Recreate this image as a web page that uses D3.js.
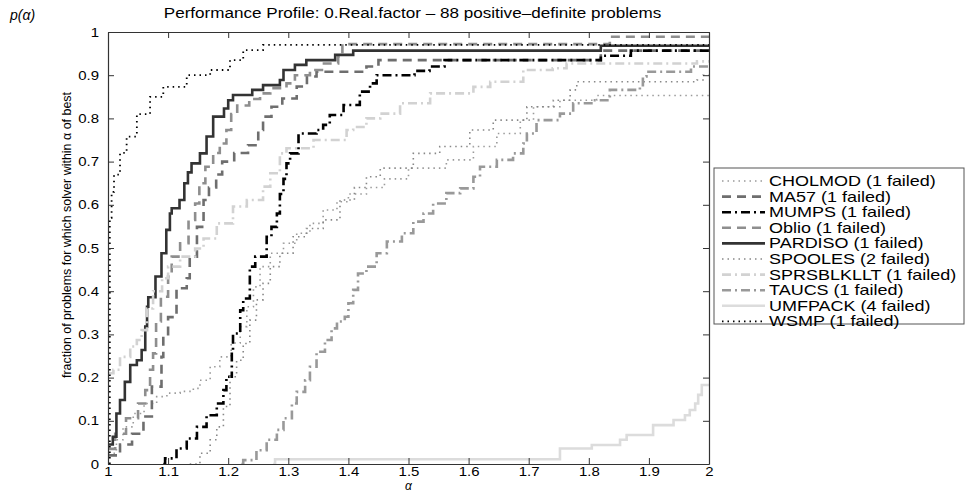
<!DOCTYPE html>
<html>
<head>
<meta charset="utf-8">
<script src="https://cdn.jsdelivr.net/npm/d3@7"></script>
<style>
  body { margin: 0; background: #fff; }
  svg { display: block; }
  text { font-family: "Liberation Sans", Arial, Helvetica, sans-serif; fill: #000; }
</style>
</head>
<body>
<svg id="chart" width="967" height="493"></svg>
<script>
// performance profile data: [alpha, fraction]
var cholmod = [[1,0.025],[1.014,0.056],[1.025,0.086],[1.042,0.117],[1.06,0.14],[1.081,0.156],[1.098,0.164],[1.12,0.168],[1.142,0.175],[1.153,0.194],[1.17,0.225],[1.186,0.248],[1.205,0.28],[1.22,0.318],[1.231,0.364],[1.242,0.41],[1.253,0.457],[1.27,0.488],[1.292,0.511],[1.314,0.534],[1.336,0.557],[1.358,0.588],[1.381,0.607],[1.4,0.625],[1.43,0.64],[1.46,0.66],[1.5,0.685],[1.563,0.704],[1.608,0.735],[1.647,0.765],[1.686,0.796],[1.708,0.827],[1.752,0.842],[1.813,0.853],[2,0.853]];
var ma57 = [[1,0.02],[1.02,0.045],[1.04,0.07],[1.059,0.11],[1.073,0.179],[1.089,0.248],[1.092,0.295],[1.1,0.34],[1.114,0.407],[1.131,0.43],[1.136,0.48],[1.148,0.549],[1.159,0.611],[1.168,0.64],[1.18,0.67],[1.19,0.7],[1.21,0.72],[1.233,0.738],[1.25,0.773],[1.258,0.804],[1.272,0.827],[1.29,0.846],[1.314,0.874],[1.331,0.897],[1.347,0.908],[1.43,0.92],[1.45,0.935],[1.82,0.957],[2,0.957]];
var mumps = [[1.092,0],[1.095,0.013],[1.114,0.036],[1.131,0.059],[1.148,0.086],[1.164,0.113],[1.181,0.14],[1.192,0.171],[1.197,0.202],[1.206,0.264],[1.208,0.302],[1.22,0.356],[1.225,0.383],[1.236,0.457],[1.245,0.48],[1.264,0.526],[1.272,0.549],[1.281,0.58],[1.286,0.625],[1.292,0.66],[1.297,0.696],[1.303,0.719],[1.317,0.765],[1.347,0.773],[1.358,0.785],[1.369,0.808],[1.392,0.831],[1.419,0.862],[1.436,0.881],[1.447,0.9],[1.51,0.91],[1.535,0.92],[1.56,0.935],[1.82,0.945],[1.87,0.957],[2,0.957]];
var oblio = [[1,0.035],[1.012,0.07],[1.03,0.106],[1.05,0.14],[1.062,0.171],[1.07,0.218],[1.075,0.256],[1.08,0.33],[1.088,0.387],[1.1,0.434],[1.106,0.48],[1.12,0.511],[1.134,0.565],[1.145,0.603],[1.152,0.65],[1.162,0.688],[1.175,0.72],[1.186,0.742],[1.197,0.773],[1.205,0.81],[1.215,0.83],[1.235,0.845],[1.253,0.858],[1.27,0.87],[1.297,0.881],[1.311,0.9],[1.336,0.912],[1.356,0.927],[1.383,0.943],[1.39,0.972],[1.835,0.989],[2,0.989]];
var pardiso = [[1,0.045],[1.008,0.063],[1.014,0.117],[1.02,0.148],[1.028,0.19],[1.037,0.229],[1.048,0.24],[1.056,0.264],[1.062,0.318],[1.065,0.364],[1.067,0.386],[1.079,0.434],[1.089,0.488],[1.097,0.542],[1.103,0.58],[1.106,0.592],[1.119,0.611],[1.127,0.65],[1.133,0.675],[1.139,0.696],[1.153,0.719],[1.164,0.758],[1.175,0.804],[1.193,0.823],[1.2,0.842],[1.208,0.854],[1.24,0.866],[1.258,0.877],[1.286,0.889],[1.292,0.912],[1.311,0.924],[1.33,0.935],[1.378,0.947],[1.408,0.957],[1.82,0.968],[2,0.968]];
var spooles = [[1.136,0],[1.153,0.025],[1.17,0.056],[1.181,0.086],[1.192,0.133],[1.203,0.202],[1.214,0.24],[1.225,0.279],[1.236,0.333],[1.247,0.38],[1.258,0.418],[1.27,0.457],[1.286,0.488],[1.308,0.526],[1.33,0.545],[1.358,0.565],[1.386,0.611],[1.41,0.64],[1.43,0.665],[1.453,0.685],[1.508,0.719],[1.552,0.735],[1.602,0.773],[1.641,0.796],[1.697,0.827],[1.741,0.842],[1.769,0.866],[1.78,0.885],[1.98,0.889],[1.99,0.9],[2,0.9]];
var sprsblkllt = [[1,0.21],[1.009,0.218],[1.02,0.248],[1.037,0.272],[1.048,0.287],[1.056,0.31],[1.065,0.36],[1.075,0.4],[1.09,0.43],[1.1,0.457],[1.12,0.48],[1.145,0.499],[1.159,0.522],[1.181,0.557],[1.208,0.596],[1.231,0.611],[1.258,0.642],[1.27,0.673],[1.286,0.719],[1.297,0.731],[1.342,0.75],[1.397,0.773],[1.408,0.78],[1.43,0.8],[1.453,0.811],[1.486,0.835],[1.536,0.858],[1.608,0.873],[1.636,0.885],[1.691,0.912],[1.74,0.916],[1.763,0.927],[1.98,0.932],[2,0.932]];
var taucs = [[1.222,0],[1.225,0.009],[1.247,0.032],[1.264,0.056],[1.281,0.079],[1.292,0.106],[1.306,0.14],[1.314,0.167],[1.328,0.194],[1.336,0.225],[1.347,0.26],[1.361,0.287],[1.372,0.314],[1.381,0.33],[1.394,0.341],[1.4,0.372],[1.408,0.403],[1.416,0.441],[1.43,0.457],[1.447,0.488],[1.464,0.515],[1.489,0.534],[1.508,0.561],[1.525,0.58],[1.541,0.603],[1.563,0.627],[1.586,0.638],[1.608,0.665],[1.619,0.688],[1.647,0.704],[1.674,0.719],[1.691,0.742],[1.697,0.765],[1.713,0.796],[1.752,0.811],[1.774,0.835],[1.807,0.842],[1.835,0.866],[1.885,0.877],[1.89,0.897],[1.896,0.908],[1.97,0.92],[2,0.92]];
var umfpack = [[1.275,0],[1.278,0.011],[1.752,0.036],[1.805,0.044],[1.852,0.056],[1.863,0.067],[1.907,0.09],[1.941,0.102],[1.96,0.113],[1.968,0.125],[1.977,0.14],[1.982,0.16],[1.988,0.183],[2,0.183]];
var wsmp = [[1.003,0],[1.003,0.57],[1.006,0.63],[1.01,0.67],[1.02,0.72],[1.031,0.758],[1.048,0.81],[1.07,0.85],[1.092,0.873],[1.131,0.9],[1.17,0.912],[1.203,0.935],[1.225,0.958],[1.258,0.97],[2,0.97]];

var solverNames = ["CHOLMOD","MA57","MUMPS","Oblio","PARDISO","SPOOLES","SPRSBLKLLT","TAUCS","UMFPACK","WSMP"];
var failedCounts = [1,1,1,1,1,2,1,1,4,1];
var xTicks = [1,1.1,1.2,1.3,1.4,1.5,1.6,1.7,1.8,1.9,2];
var yTicks = [0,0.1,0.2,0.3,0.4,0.5,0.6,0.7,0.8,0.9,1];
var titleText = "Performance Profile: 0.Real.factor \u2013 88 positive\u2013definite problems";
var yLabelText = "fraction of problems for which solver within \u03b1 of best";

var allData = [cholmod, ma57, mumps, oblio, pardiso, spooles, sprsblkllt, taucs, umfpack, wsmp];

// line styles, matlab look
var styles = [
  {color:"#9a9a9a", width:1.6, dash:"1.5,4"},
  {color:"#6e6e6e", width:2.6, dash:"9,6"},
  {color:"#000000", width:2.6, dash:"9,4,2,4"},
  {color:"#8e8e8e", width:2.6, dash:"9,6"},
  {color:"#333333", width:2.6, dash:null},
  {color:"#888888", width:1.6, dash:"1.5,4"},
  {color:"#d2d2d2", width:2.6, dash:"9,4,2,4"},
  {color:"#999999", width:2.6, dash:"9,4,2,4"},
  {color:"#dcdcdc", width:2.6, dash:null},
  {color:"#000000", width:1.8, dash:"1.5,4"}
];

var margin = {left:108, top:32, right:258, bottom:29};
var W = 967, H = 493;
var svg = d3.select("#chart");

// the original fonts are wider than Liberation Sans, stretch a bit
function widen(sel, k) {
  sel.each(function(){
    var w = this.getComputedTextLength();
    d3.select(this).attr("textLength", w * k).attr("lengthAdjust","spacingAndGlyphs");
  });
}

var x = d3.scaleLinear().domain([1,2]).range([margin.left, W - margin.right]);
var y = d3.scaleLinear().domain([0,1]).range([H - margin.bottom, margin.top]);

svg.append("defs").append("clipPath").attr("id","plotclip")
  .append("rect")
  .attr("x", x(1)).attr("y", y(1) - 1)
  .attr("width", x(2) - x(1)).attr("height", y(0) - y(1) + 1);

var line = d3.line()
  .x(function(d){ return x(d[0]); })
  .y(function(d){ return y(d[1]); })
  .curve(d3.curveStepAfter);

var curves = svg.append("g").attr("clip-path","url(#plotclip)");
allData.forEach(function(data, i){
  var s = styles[i];
  curves.append("path")
    .datum(data)
    .attr("d", line)
    .attr("fill","none")
    .attr("stroke", s.color)
    .attr("stroke-width", s.width)
    .attr("stroke-dasharray", s.dash);
});

// axes: ticks inward on all four sides
var axisColor = "#333";
var tickLen = 6;
var xAxisG = svg.append("g")
  .attr("transform","translate(0," + y(0) + ")")
  .call(d3.axisBottom(x).tickValues(xTicks).tickSizeInner(-tickLen).tickSizeOuter(0).tickPadding(3).tickFormat(d3.format("~g")));
svg.append("g")
  .attr("transform","translate(0," + y(1) + ")")
  .call(d3.axisTop(x).tickValues(xTicks).tickSizeInner(-tickLen).tickSizeOuter(0).tickFormat(""));
var yAxisG = svg.append("g")
  .attr("transform","translate(" + x(1) + ",0)")
  .call(d3.axisLeft(y).tickValues(yTicks).tickSizeInner(-tickLen).tickSizeOuter(0).tickPadding(9).tickFormat(d3.format("~g")));
svg.append("g")
  .attr("transform","translate(" + x(2) + ",0)")
  .call(d3.axisRight(y).tickValues(yTicks).tickSizeInner(-tickLen).tickSizeOuter(0).tickFormat(""));

svg.selectAll(".domain").attr("stroke", axisColor).attr("stroke-width",1.2);
svg.selectAll(".tick line").attr("stroke", axisColor);
svg.selectAll(".tick text").attr("font-size","13px").attr("font-family","Liberation Sans, Arial, sans-serif").attr("fill","#000");
widen(xAxisG.selectAll(".tick text"), 1.15);
widen(yAxisG.selectAll(".tick text"), 1.15);

// title and labels
var title = svg.append("text")
  .attr("x", (x(1) + x(2)) / 2 + 4).attr("y", 18)
  .attr("text-anchor","middle")
  .attr("font-size","14px")
  .text(titleText);
widen(title, 1.22);

svg.append("text")
  .attr("x", 10).attr("y", 20)
  .attr("font-family","Liberation Serif, DejaVu Serif, serif")
  .attr("font-style","italic")
  .attr("font-size","14px")
  .text("p(\u03b1)");

svg.append("text")
  .attr("transform","translate(71," + 235 + ") rotate(-90)")
  .attr("text-anchor","middle")
  .attr("font-size","13px")
  .attr("textLength", 286)
  .attr("lengthAdjust","spacingAndGlyphs")
  .text(yLabelText);

svg.append("text")
  .attr("x", (x(1) + x(2)) / 2).attr("y", 490)
  .attr("text-anchor","middle")
  .attr("font-family","Liberation Serif, DejaVu Serif, serif")
  .attr("font-style","italic")
  .attr("font-size","12px")
  .text("\u03b1");

// legend
var lg = svg.append("g").attr("transform","translate(714,168)");
lg.append("rect")
  .attr("x",0).attr("y",0).attr("width",250).attr("height",156)
  .attr("fill","#fff").attr("stroke","#555").attr("stroke-width",1);
solverNames.forEach(function(name, i){
  var s = styles[i];
  var yy = 13 + i * 15.6;
  lg.append("line")
    .attr("x1",8).attr("x2",51).attr("y1",yy).attr("y2",yy)
    .attr("stroke", s.color)
    .attr("stroke-width", s.width)
    .attr("stroke-dasharray", s.dash);
  var t = lg.append("text")
    .attr("x",55).attr("y",yy + 5)
    .attr("font-size","14.5px")
    .text(name + " (" + failedCounts[i] + " failed)");
  widen(t, 1.24);
});
</script>
</body>
</html>
